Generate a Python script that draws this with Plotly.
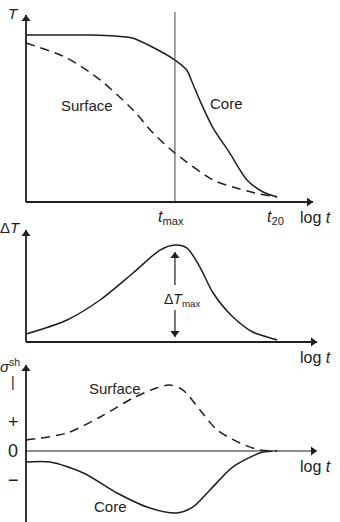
import plotly.graph_objects as go

# ---------------- data (arbitrary units: log t from 0, normalised values) ----------------
# Panel 1: temperature vs log t
core_T_x = [0, 1.2, 2.3, 3.1, 3.7, 4.4, 5.19, 5.6, 5.8, 6.05, 6.5, 7.1, 7.7, 8.26, 8.75]
core_T_y = [1.0, 1.0, 1.0, 0.994, 0.982, 0.928, 0.850, 0.790, 0.713, 0.611, 0.449, 0.293, 0.132, 0.060, 0.030]
surf_T_x = [0, 1.43, 2.58, 3.73, 4.43, 5.19, 6.52, 7.21, 7.98, 8.75]
surf_T_y = [0.952, 0.862, 0.731, 0.551, 0.413, 0.293, 0.132, 0.090, 0.054, 0.030]

# Panel 2: temperature difference
dT_x = [0, 1.43, 2.58, 3.73, 4.67, 5.19, 5.61, 6.06, 6.52, 7.21, 7.9, 8.4, 8.75]
dT_y = [0.063, 0.211, 0.421, 0.705, 0.947, 1.0, 0.968, 0.768, 0.495, 0.242, 0.084, 0.032, 0.0]

# Panel 3: shrinkage stress
surf_s_x = [0, 1.43, 2.58, 3.73, 4.55, 5.0, 5.47, 6.06, 6.66, 7.46, 8.15, 8.75]
surf_s_y = [0.167, 0.273, 0.515, 0.803, 0.955, 1.0, 0.924, 0.621, 0.318, 0.121, 0.015, 0.0]
core_s_x = [0, 0.84, 2.0, 3.17, 4.32, 5.26, 5.82, 6.41, 7.21, 8.15, 8.6]
core_s_y = [-0.167, -0.167, -0.333, -0.636, -0.864, -0.939, -0.848, -0.591, -0.242, -0.030, 0.0]

t_max = 5.19
t_20 = 8.75
x_end = 10.0
x_end2 = 10.14
stress_ticks = [0.44, 0.0, -0.44]
stress_tick_text = ["+", "0", "\u2212"]

# ---------------- layout geometry ----------------
W, H = 340, 522
PX_PER_X = 28.7
X0_PX = 26
PANELS = {"y": (202, 167), "y2": (340, 95), "y3": (451, 66)}  # zero pixel, px per unit

def yrange(p0, s):
    return [(p0 - H) / s, p0 / s]

INK = "#1e1e1e"
FONT = "Liberation Sans, Arial, sans-serif"
LW = 1.5
HEAD = 8

fig = go.Figure()

def line(x, y, ya, dash=None, width=LW, color=INK, shape="spline"):
    fig.add_trace(go.Scatter(x=x, y=y, yaxis=ya, xaxis="x", mode="lines",
                             line=dict(color=color, width=width, shape=shape, smoothing=0.8,
                                       dash=dash), hoverinfo="skip", showlegend=False))

def head(x, y, ya, direction):
    # place a triangle marker so its tip sits on (x, y)
    r = HEAD / 2
    s = PANELS[ya][1]
    if direction == "up":
        y = y - r / s
        sym = "triangle-up"
    elif direction == "down":
        y = y + r / s
        sym = "triangle-down"
    else:
        x = x - r / PX_PER_X
        sym = "triangle-right"
    fig.add_trace(go.Scatter(x=[x], y=[y], yaxis=ya, mode="markers",
                             marker=dict(symbol=sym, size=HEAD, color=INK, line=dict(width=0)),
                             hoverinfo="skip", showlegend=False))

def arrow(x0, y0, x1, y1, ya, direction, width=LW):
    line([x0, x1], [y0, y1], ya, width=width, shape="linear")
    head(x1, y1, ya, direction)

DASH = "9px,6px"
line(core_T_x, core_T_y, "y")
line(surf_T_x, surf_T_y, "y", DASH)
line(dT_x, dT_y, "y2")
line(surf_s_x, surf_s_y, "y3", DASH)
line(core_s_x, core_s_y, "y3")

# vertical t_max line (panel 1)
line([t_max, t_max], [0, 1.138], "y", width=1, color="#444", shape="linear")

# axes
arrow(0, 0, 0, 1.12, "y", "up", 1.8)
arrow(0, 0, x_end, 0, "y", "right", 1.8)
arrow(0, -0.02, 0, 1.158, "y2", "up", 1.8)
arrow(0, -0.02, x_end2, -0.02, "y2", "right", 2)
arrow(0, -1.08, 0, 1.303, "y3", "up", 1.8)
arrow(0, 0, x_end2, 0, "y3", "right", 1.1)

# delta T max double arrow
arrow(t_max, 0.58, t_max, 0.926, "y2", "up", 1.2)
arrow(t_max, 0.316, t_max, 0.032, "y2", "down", 1.2)

ann = []

def text(x, y, yref, s, size=15, xanchor="center"):
    ann.append(dict(x=x, y=y, xref="x", yref=yref, text=s, showarrow=False,
                    xanchor=xanchor, yanchor="middle",
                    font=dict(family=FONT, size=size, color=INK)))

# labels
text(-0.45, 1.13, "y", "<i>T</i>", 15)
text(2.13, 0.575, "y", "Surface", 15)
text(7.0, 0.587, "y", "Core", 15)
text(5.05, -0.09, "y", "<i>t</i><sub>max</sub>", 16)
text(8.71, -0.09, "y", "<i>t</i><sub>20</sub>", 16)
text(10.07, -0.09, "y", "log <i>t</i>", 16)

text(-0.55, 1.18, "y2", "\u0394<i>T</i>", 15)
text(5.45, 0.42, "y2", "\u0394<i>T</i><sub>max</sub>", 14)
text(10.07, -0.179, "y2", "log <i>t</i>", 16)

text(-0.55, 1.29, "y3", "<i>\u03c3</i><sup>sh</sup>", 15)
text(-0.45, 1.045, "y3", "|", 14)
for v, s in zip(stress_ticks, stress_tick_text):
    text(-0.45, v, "y3", s, 18)
text(3.10, 0.94, "y3", "Surface", 15)
text(2.93, -0.848, "y3", "Core", 15)
text(10.07, -0.242, "y3", "log <i>t</i>", 16)

xr = [-X0_PX / PX_PER_X, (W - X0_PX) / PX_PER_X]
fig.update_layout(
    width=W, height=H, margin=dict(l=0, r=0, t=0, b=0),
    paper_bgcolor="white", plot_bgcolor="white",
    xaxis=dict(range=xr, visible=False, fixedrange=True),
    yaxis=dict(range=yrange(*PANELS["y"]), visible=False, domain=[0, 1]),
    yaxis2=dict(range=yrange(*PANELS["y2"]), visible=False, overlaying="y"),
    yaxis3=dict(range=yrange(*PANELS["y3"]), visible=False, overlaying="y"),
    annotations=ann,
    showlegend=False,
)

fig.write_html("out.html")
